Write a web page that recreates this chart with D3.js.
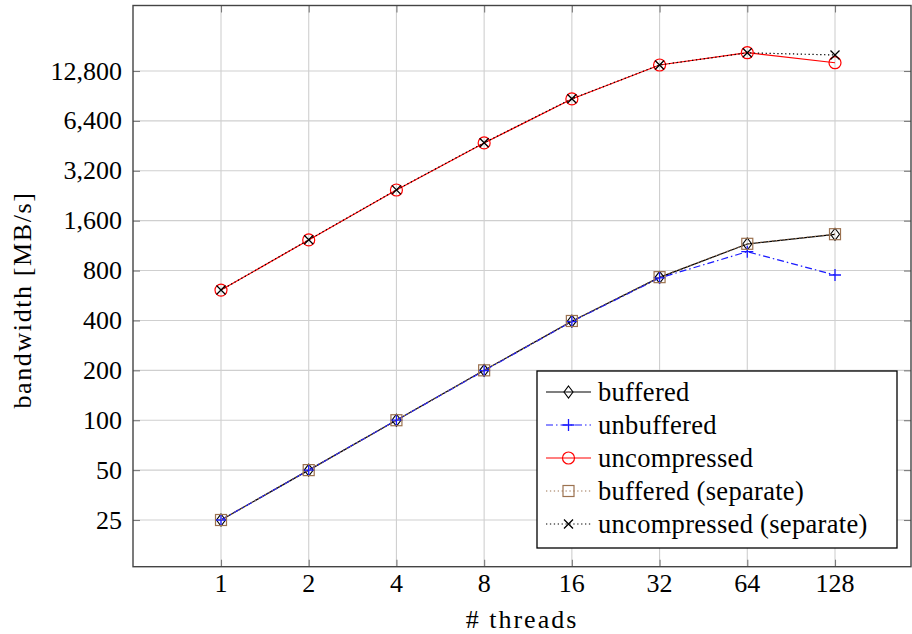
<!DOCTYPE html>
<html>
<head>
<meta charset="utf-8">
<script src="https://cdn.jsdelivr.net/npm/d3@7"></script>
<style>
  body { margin: 0; background: #fff; }
</style>
</head>
<body>
<div id="chart"></div>
<script>
// thread counts on the x axis
var threads = [1, 2, 4, 8, 16, 32, 64, 128];

// bandwidth in MB/s
var buffered = [25, 50, 100, 200, 396, 728, 1157, 1324];
var unbuffered = [25, 50, 100, 199, 394, 722, 1040, 752];
var uncompressed = [610, 1224, 2450, 4710, 8680, 13910, 16500, 14360];
var bufferedSeparate = [25, 50, 100, 200, 397, 730, 1160, 1326];
var uncompressedSeparate = [610, 1226, 2455, 4720, 8700, 13920, 16480, 15990];

var yTicks = [25, 50, 100, 200, 400, 800, 1600, 3200, 6400, 12800];
var seriesNames = ["buffered", "unbuffered", "uncompressed", "buffered (separate)", "uncompressed (separate)"];

var width = 912;
var height = 634;
var box = {left: 133, top: 5.5, right: 911, bottom: 566.7};
var brown = "#9c7250";
var fontFam = "Liberation Serif";

var svg = d3.select("#chart").append("svg")
    .attr("width", width)
    .attr("height", height);

var x = d3.scaleLog().base(2).domain([1, 128]).range([221, 835]);
var y = d3.scaleLog().base(2).domain([25, 12800]).range([520, 71]);

// grid
svg.append("g").selectAll("line").data(threads).enter().append("line")
    .attr("x1", function(d) { return x(d); })
    .attr("x2", function(d) { return x(d); })
    .attr("y1", box.top).attr("y2", box.bottom)
    .attr("stroke", "#cfcfcf").attr("stroke-width", 1.1);
svg.append("g").selectAll("line").data(yTicks).enter().append("line")
    .attr("x1", box.left).attr("x2", box.right)
    .attr("y1", function(d) { return y(d); })
    .attr("y2", function(d) { return y(d); })
    .attr("stroke", "#cfcfcf").attr("stroke-width", 1.1);

// axes with inward ticks on all four sides
var tickLen = 7;
var xAxisB = d3.axisBottom(x).tickValues(threads).tickSize(-tickLen).tickFormat("");
var xAxisT = d3.axisTop(x).tickValues(threads).tickSize(-tickLen).tickFormat("");
var yAxisL = d3.axisLeft(y).tickValues(yTicks).tickSize(-tickLen).tickFormat("");
var yAxisR = d3.axisRight(y).tickValues(yTicks).tickSize(-tickLen).tickFormat("");

function styleAxis(g) {
    g.select(".domain").remove();
    g.selectAll(".tick line").attr("stroke", "#7a7a7a").attr("stroke-width", 1.1);
}
svg.append("g").attr("transform", "translate(0," + box.bottom + ")").call(xAxisB).call(styleAxis);
svg.append("g").attr("transform", "translate(0," + box.top + ")").call(xAxisT).call(styleAxis);
svg.append("g").attr("transform", "translate(" + box.left + ",0)").call(yAxisL).call(styleAxis);
svg.append("g").attr("transform", "translate(" + box.right + ",0)").call(yAxisR).call(styleAxis);

svg.append("rect")
    .attr("x", box.left).attr("y", box.top)
    .attr("width", box.right - box.left).attr("height", box.bottom - box.top)
    .attr("fill", "none").attr("stroke", "#444").attr("stroke-width", 1.4);

// tick labels
svg.append("g").selectAll("text").data(threads).enter().append("text")
    .attr("x", function(d) { return x(d); })
    .attr("y", 592)
    .attr("text-anchor", "middle")
    .attr("font-family", fontFam)
    .attr("font-size", 26)
    .text(function(d) { return d; });
svg.append("g").selectAll("text").data(yTicks).enter().append("text")
    .attr("x", 122)
    .attr("y", function(d) { return y(d) + 8.5; })
    .attr("text-anchor", "end")
    .attr("font-family", fontFam)
    .attr("font-size", 26)
    .text(function(d) { return d3.format(",")(d); });

svg.append("text")
    .attr("x", (box.left + box.right) / 2)
    .attr("y", 628)
    .attr("text-anchor", "middle")
    .attr("font-family", fontFam)
    .attr("font-size", 26)
    .attr("letter-spacing", 2)
    .text("# threads");
svg.append("text")
    .attr("transform", "translate(31,300) rotate(-90)")
    .attr("text-anchor", "middle")
    .attr("font-family", fontFam)
    .attr("font-size", 26)
    .attr("letter-spacing", 1.6)
    .text("bandwidth [MB/s]");

// markers
function drawMark(g, kind, color, cx, cy) {
    if (kind == "diamond") {
        g.append("path").attr("d", "M" + cx + " " + (cy - 6) + "L" + (cx + 4.5) + " " + cy + "L" + cx + " " + (cy + 6) + "L" + (cx - 4.5) + " " + cy + "Z")
            .attr("fill", "none").attr("stroke", color).attr("stroke-width", 1.1);
    } else if (kind == "plus") {
        g.append("path").attr("d", "M" + (cx - 6) + " " + cy + "H" + (cx + 6) + "M" + cx + " " + (cy - 6) + "V" + (cy + 6))
            .attr("stroke", color).attr("stroke-width", 1.3);
    } else if (kind == "circle") {
        g.append("circle").attr("cx", cx).attr("cy", cy).attr("r", 6)
            .attr("fill", "none").attr("stroke", color).attr("stroke-width", 1.2);
    } else if (kind == "square") {
        g.append("rect").attr("x", cx - 5.5).attr("y", cy - 5.5).attr("width", 11).attr("height", 11)
            .attr("fill", "none").attr("stroke", color).attr("stroke-width", 1.2);
    } else if (kind == "cross") {
        g.append("path").attr("d", "M" + (cx - 4.5) + " " + (cy - 4.5) + "L" + (cx + 4.5) + " " + (cy + 4.5) + "M" + (cx + 4.5) + " " + (cy - 4.5) + "L" + (cx - 4.5) + " " + (cy + 4.5))
            .attr("stroke", color).attr("stroke-width", 1.3);
    }
}

var styles = [
    {values: buffered, color: "#000", dash: null, mark: "diamond"},
    {values: unbuffered, color: "#1a1aff", dash: "7,3,1.5,3", mark: "plus"},
    {values: uncompressed, color: "#ff0000", dash: null, mark: "circle"},
    {values: bufferedSeparate, color: brown, dash: "1.3,2.6", mark: "square"},
    {values: uncompressedSeparate, color: "#000", dash: "1.3,2.6", mark: "cross"}
];

var line = d3.line()
    .x(function(d) { return x(d[0]); })
    .y(function(d) { return y(d[1]); });

styles.forEach(function(s) {
    var pts = d3.zip(threads, s.values);
    var g = svg.append("g");
    g.append("path")
        .attr("d", line(pts))
        .attr("fill", "none")
        .attr("stroke", s.color)
        .attr("stroke-width", 1.2)
        .attr("stroke-dasharray", s.dash);
    pts.forEach(function(p) { drawMark(g, s.mark, s.color, x(p[0]), y(p[1])); });
});

// legend
var lg = svg.append("g");
lg.append("rect")
    .attr("x", 537).attr("y", 371).attr("width", 360).attr("height", 177)
    .attr("fill", "#fff").attr("stroke", "#000").attr("stroke-width", 1.3);
styles.forEach(function(s, i) {
    var cy = 392 + i * 33;
    lg.append("line")
        .attr("x1", 546).attr("x2", 591).attr("y1", cy).attr("y2", cy)
        .attr("stroke", s.color).attr("stroke-width", 1.2)
        .attr("stroke-dasharray", s.dash);
    drawMark(lg, s.mark, s.color, 568.5, cy);
    lg.append("text")
        .attr("x", 598).attr("y", cy + 8.5)
        .attr("font-family", fontFam)
        .attr("font-size", 26.5)
        .attr("letter-spacing", 0.3)
        .text(seriesNames[i]);
});
</script>
</body>
</html>
